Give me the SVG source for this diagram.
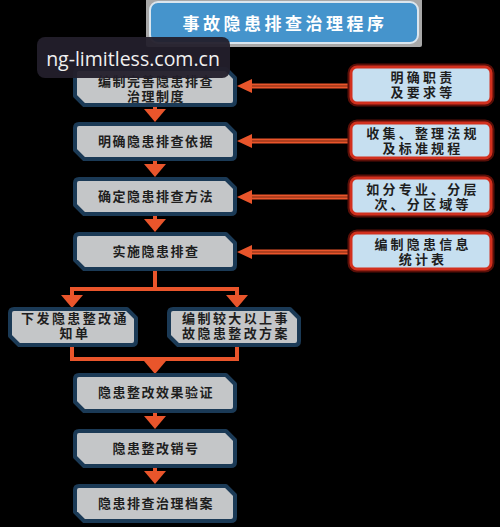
<svg xmlns="http://www.w3.org/2000/svg" width="500" height="527" viewBox="0 0 500 527">
<style>
.main{fill:#c4c6c8;stroke:#1b3a56;stroke-width:4;stroke-linejoin:round}
.side{fill:#c6dff0;stroke:#d2301e;stroke-width:3}
.sideglow{fill:none;stroke:#5a0f08;stroke-width:7}
.t{font-family:"Liberation Sans","Noto Sans CJK SC","Noto Sans CJK JP",sans-serif;font-weight:bold;font-size:13px;fill:#1e1e1e;text-anchor:middle;letter-spacing:1.5px}
.tb{font-family:"Liberation Sans","Noto Sans CJK SC","Noto Sans CJK JP",sans-serif;font-weight:bold;font-size:13px;fill:#1e1e1e;text-anchor:middle;letter-spacing:2.4px}
.ts{font-family:"Liberation Sans","Noto Sans CJK SC","Noto Sans CJK JP",sans-serif;font-weight:bold;font-size:13px;fill:#1e1e1e;text-anchor:middle;letter-spacing:3.2px}
.c{fill:none;stroke:#e9552b;stroke-width:4}
.h{fill:none;stroke:#e9552b;stroke-width:5}
.hi{fill:none;stroke:#7a2a12;stroke-width:1.2}
</style>
<defs>
<marker id="av" markerUnits="userSpaceOnUse" markerWidth="14" markerHeight="22" refX="0" refY="11" orient="auto" overflow="visible"><path d="M0,0 L13,11 L0,22 Z" fill="#e9552b"/></marker>
<marker id="ah" markerUnits="userSpaceOnUse" markerWidth="16" markerHeight="14" refX="0" refY="7" orient="auto" overflow="visible"><path d="M0,0 L15,7 L0,14 Z" fill="#e9552b"/></marker>
</defs>
<rect width="500" height="527" fill="#000"/>

<g id="title">
<rect x="146" y="-2" width="276" height="49" rx="2" fill="#a8a8a8"/>
<rect x="150" y="2" width="268" height="41" rx="8" fill="#4594cc" stroke="#dbe6ee" stroke-width="2"/>
<text x="285" y="30" font-family="Noto Sans CJK SC,sans-serif" font-weight="bold" font-size="17" fill="#fff" text-anchor="middle" letter-spacing="3.5">事故隐患排查治理程序</text>
</g>

<g id="connectors">
<path class="c" d="M155,106 V109" marker-end="url(#av)"/>
<path class="c" d="M155,161 V164" marker-end="url(#av)"/>
<path class="c" d="M155,216 V219" marker-end="url(#av)"/>
<path class="c" d="M155,271 V289 M72,289 H237"/>
<path class="c" d="M72,287 V295" marker-end="url(#av)"/>
<path class="c" d="M237,287 V295" marker-end="url(#av)"/>
<path class="c" d="M72,347 V359 H237 V347"/>
<path class="c" d="M155,359 V361" marker-end="url(#av)"/>
<path class="c" d="M155,413 V416" marker-end="url(#av)"/>
<path class="c" d="M155,468 V471" marker-end="url(#av)"/>
<path class="h" d="M350,86 H252" marker-end="url(#ah)"/>
<path class="hi" d="M350,86 H252"/>
<path class="h" d="M350,141 H252" marker-end="url(#ah)"/>
<path class="hi" d="M350,141 H252"/>
<path class="h" d="M350,197 H252" marker-end="url(#ah)"/>
<path class="hi" d="M350,197 H252"/>
<path class="h" d="M350,252 H252" marker-end="url(#ah)"/>
<path class="hi" d="M350,252 H252"/>
</g>

<g id="n1">
<path class="main" d="M79,69 H226 L235,78 V101 Q235,105 231,105 H84 L75,96 V73 Q75,69 79,69 Z"/>
<text class="t" x="156" y="86">编制完善隐患排查<tspan x="156" dy="15">治理制度</tspan></text>
</g>
<g id="n2">
<path class="main" d="M79,124 H226 L235,133 V155 Q235,159 231,159 H84 L75,150 V128 Q75,124 79,124 Z"/>
<text class="t" x="156" y="146">明确隐患排查依据</text>
</g>
<g id="n3">
<path class="main" d="M79,179 H226 L235,188 V210 Q235,214 231,214 H84 L75,205 V183 Q75,179 79,179 Z"/>
<text class="t" x="156" y="201">确定隐患排查方法</text>
</g>
<g id="n4">
<path class="main" d="M79,234 H226 L235,243 V265 Q235,269 231,269 H84 L75,260 V238 Q75,234 79,234 Z"/>
<text class="t" x="156" y="256">实施隐患排查</text>
</g>
<g id="n5">
<path class="main" d="M14,309 H127 L136,318 V341 Q136,345 132,345 H19 L10,336 V313 Q10,309 14,309 Z"/>
<text class="tb" x="75" y="323">下发隐患整改通<tspan x="75" dy="15">知单</tspan></text>
</g>
<g id="n6">
<path class="main" d="M173,309 H290 L299,318 V341 Q299,345 295,345 H178 L169,336 V313 Q169,309 173,309 Z"/>
<text class="tb" x="236" y="323">编制较大以上事<tspan x="236" dy="15">故隐患整改方案</tspan></text>
</g>
<g id="n7">
<path class="main" d="M79,375 H226 L235,384 V407 Q235,411 231,411 H84 L75,402 V379 Q75,375 79,375 Z"/>
<text class="t" x="156" y="397">隐患整改效果验证</text>
</g>
<g id="n8">
<path class="main" d="M79,431 H226 L235,440 V462 Q235,466 231,466 H84 L75,457 V435 Q75,431 79,431 Z"/>
<text class="t" x="156" y="453">隐患整改销号</text>
</g>
<g id="n9">
<path class="main" d="M79,486 H226 L235,495 V517 Q235,521 231,521 H84 L75,512 V490 Q75,486 79,486 Z"/>
<text class="t" x="156" y="508">隐患排查治理档案</text>
</g>

<g id="s1">
<rect class="sideglow" x="351" y="67" width="140" height="36" rx="6"/>
<rect class="side" x="351" y="67" width="140" height="36" rx="6"/>
<text class="ts" x="423" y="82">明确职责<tspan x="423" dy="15">及要求等</tspan></text>
</g>
<g id="s2">
<rect class="sideglow" x="351" y="123" width="140" height="35" rx="6"/>
<rect class="side" x="351" y="123" width="140" height="35" rx="6"/>
<text class="ts" x="423" y="138">收集、整理法规<tspan x="423" dy="15">及标准规程</tspan></text>
</g>
<g id="s3">
<rect class="sideglow" x="351" y="178" width="140" height="36" rx="6"/>
<rect class="side" x="351" y="178" width="140" height="36" rx="6"/>
<text class="ts" x="423" y="194">如分专业、分层<tspan x="423" dy="15">次、分区域等</tspan></text>
</g>
<g id="s4">
<rect class="sideglow" x="351" y="233" width="140" height="36" rx="6"/>
<rect class="side" x="351" y="233" width="140" height="36" rx="6"/>
<text class="ts" x="423" y="249">编制隐患信息<tspan x="423" dy="15">统计表</tspan></text>
</g>

<g id="watermark">
<rect x="37" y="37" width="193" height="41" rx="8" fill="#231f2b" fill-opacity="0.95"/>
<text x="133" y="66" font-family="Open Sans,sans-serif" font-size="19.5" fill="#f0f0f0" text-anchor="middle">ng-limitless.com.cn</text>
</g>
</svg>
